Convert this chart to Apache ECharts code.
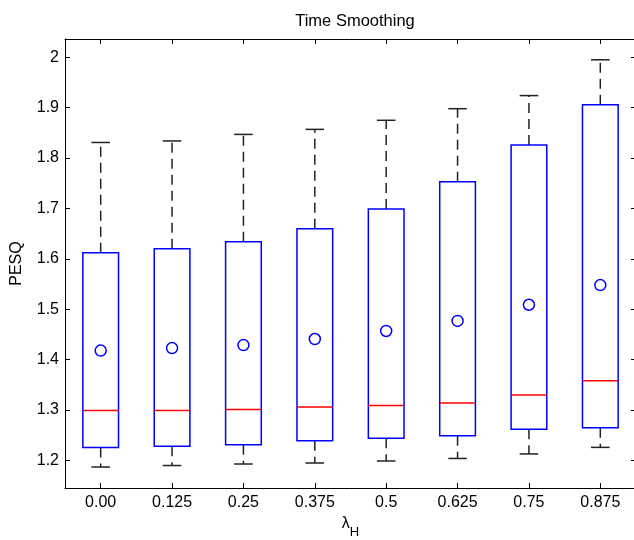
<!DOCTYPE html>
<html>
<head>
<meta charset="utf-8">
<script src="https://cdn.jsdelivr.net/npm/echarts@6/dist/echarts.min.js"></script>
<style>
  html, body { margin: 0; padding: 0; background: #fff; }
  #chart { width: 634px; height: 540px; }
</style>
</head>
<body>
<div id="chart"></div>
<script>
// PESQ distribution per smoothing factor lambda_H
const categories   = ['0.00', '0.125', '0.25', '0.375', '0.5', '0.625', '0.75', '0.875'];
const lowerWhisker = [1.187, 1.190, 1.193, 1.195, 1.199, 1.204, 1.213, 1.226];
const q1           = [1.226, 1.228, 1.231, 1.239, 1.244, 1.249, 1.262, 1.265];
const median       = [1.299, 1.299, 1.301, 1.306, 1.309, 1.314, 1.330, 1.358];
const q3           = [1.612, 1.620, 1.634, 1.660, 1.699, 1.753, 1.826, 1.906];
const upperWhisker = [1.831, 1.834, 1.847, 1.857, 1.875, 1.898, 1.924, 1.995];
const means        = [1.418, 1.423, 1.429, 1.441, 1.457, 1.477, 1.509, 1.548];

const FONT = 'Liberation Sans, Arial, Helvetica, sans-serif';
const Y_MIN = 1.1454, Y_MAX = 2.0363;

const boxData = categories.map((c, i) =>
  [i, lowerWhisker[i], q1[i], median[i], q3[i], upperWhisker[i], means[i]]);

// One box: dashed whiskers with caps, blue IQR box, red median, blue mean marker
function renderBox(params, api) {
  const i = api.value(0);
  const band = api.size([1, 0])[0];
  const half = band * 0.25;
  const capHalf = band * 0.13;
  const x = api.coord([i, api.value(3)])[0];
  const y = v => api.coord([i, v])[1];
  const yLo = y(api.value(1)), yQ1 = y(api.value(2)), yMed = y(api.value(3));
  const yQ3 = y(api.value(4)), yHi = y(api.value(5)), yMean = y(api.value(6));
  const whisker = { stroke: '#222', lineWidth: 1.5, lineDash: [10, 6] };
  const cap = { stroke: '#222', lineWidth: 1.5 };
  return {
    type: 'group',
    children: [
      { type: 'line', shape: { x1: x, y1: yQ3, x2: x, y2: yHi }, style: whisker },
      { type: 'line', shape: { x1: x, y1: yQ1, x2: x, y2: yLo }, style: whisker },
      { type: 'line', shape: { x1: x - capHalf, y1: yHi, x2: x + capHalf, y2: yHi }, style: cap },
      { type: 'line', shape: { x1: x - capHalf, y1: yLo, x2: x + capHalf, y2: yLo }, style: cap },
      { type: 'rect', shape: { x: x - half, y: yQ3, width: half * 2, height: yQ1 - yQ3 },
        style: { fill: 'none', stroke: '#0000ff', lineWidth: 1.5 } },
      { type: 'line', shape: { x1: x - half, y1: yMed, x2: x + half, y2: yMed },
        style: { stroke: '#ff0000', lineWidth: 1.5 } },
      { type: 'circle', shape: { cx: x, cy: yMean, r: 5.5 },
        style: { fill: 'none', stroke: '#0000ff', lineWidth: 1.5 } }
    ]
  };
}

const tickStyle = () => ({ show: true, inside: true, length: 5, lineStyle: { color: '#000', width: 1 } });
const lineStyle = () => ({ show: true, onZero: false, lineStyle: { color: '#000', width: 1 } });

const chart = echarts.init(document.getElementById('chart'));
chart.setOption({
  animation: false,
  backgroundColor: '#fff',
  title: {
    text: 'Time Smoothing',
    left: 350, top: 8, textAlign: 'center',
    textStyle: { fontFamily: FONT, fontSize: 16.5, fontWeight: 'normal', color: '#000' }
  },
  grid: { left: 65, top: 39, width: 571, height: 449, outerBoundsMode: 'none', containLabel: false },
  xAxis: [{
    type: 'category', data: categories, boundaryGap: true,
    axisLine: lineStyle(),
    axisTick: Object.assign({ alignWithLabel: true }, tickStyle()),
    axisLabel: { color: '#000', fontFamily: FONT, fontSize: 16, margin: 7 },
    splitLine: { show: false },
    name: '{a|λ}{b|H}', nameLocation: 'middle', nameGap: 26,
    nameTextStyle: {
      color: '#000', fontFamily: FONT,
      rich: {
        a: { fontSize: 16, fontFamily: FONT, color: '#000', verticalAlign: 'top' },
        b: { fontSize: 13, fontFamily: FONT, color: '#000', padding: [10, 0, 0, 0] }
      }
    }
  }, {
    type: 'category', data: categories, boundaryGap: true, position: 'top',
    axisLine: lineStyle(),
    axisTick: Object.assign({ alignWithLabel: true }, tickStyle()),
    axisLabel: { show: false }, splitLine: { show: false }
  }],
  yAxis: [{
    type: 'value', min: Y_MIN, max: Y_MAX, splitNumber: 9,
    axisLine: lineStyle(), axisTick: tickStyle(),
    axisLabel: {
      color: '#000', fontFamily: FONT, fontSize: 16, margin: 6,
      showMinLabel: false, showMaxLabel: false,
      formatter: v => String(Math.round(v * 10) / 10)
    },
    splitLine: { show: false },
    name: 'PESQ', nameLocation: 'middle', nameGap: 40, nameRotate: 90,
    nameTextStyle: { color: '#000', fontFamily: FONT, fontSize: 16 }
  }, {
    type: 'value', min: Y_MIN, max: Y_MAX, splitNumber: 9, position: 'right',
    axisLine: lineStyle(), axisTick: tickStyle(),
    axisLabel: { show: false }, splitLine: { show: false }
  }],
  series: [{
    type: 'custom',
    renderItem: renderBox,
    data: boxData,
    encode: { x: 0, y: [1, 2, 3, 4, 5, 6] },
    clip: false
  }]
});
</script>
</body>
</html>
